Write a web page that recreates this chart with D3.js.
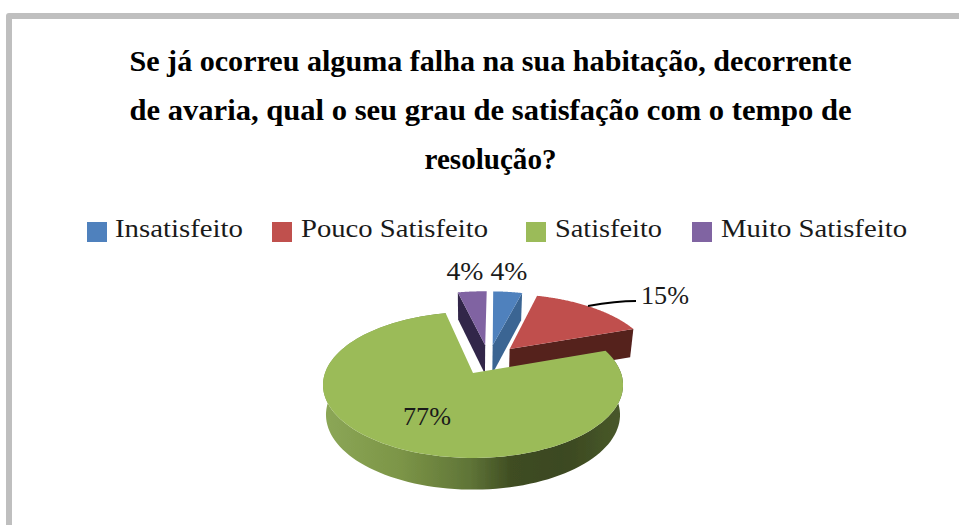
<!DOCTYPE html>
<html><head><meta charset="utf-8">
<script src="https://cdn.jsdelivr.net/npm/d3@7"></script>
<style>html,body{margin:0;padding:0;background:#fff}svg{display:block}
text{font-family:"Liberation Serif",serif;fill:#1a1a1a}</style></head>
<body><svg id="c" width="959" height="525"></svg>
<script>
const categories=["Insatisfeito","Pouco Satisfeito","Satisfeito","Muito Satisfeito"];
const values=[3.85,15.38,76.92,3.85];
const labels=["4%","15%","77%","4%"];
const topColors=["#4f81bd","#c0504d","#9bbb59","#8064a2"];
const wallColors=["#3a6593","#54201f","#6a7f3c","#33274a"];
const titleLines=["Se já ocorreu alguma falha na sua habitação, decorrente","de avaria, qual o seu grau de satisfação com o tempo de","resolução?"];
const legendX=[87,272,526,692];
const legendTextX=[115,301,555,721];
const labelPos=[[509,271],[665,295],[427,416],[465,271]];

const svg=d3.select("#c");
const defs=svg.append("defs");
defs.append("filter").attr("id","soft").attr("x","-5%").attr("y","-5%").attr("width","110%").attr("height","110%")
  .append("feGaussianBlur").attr("stdDeviation",0.45);
const grad=defs.append("linearGradient").attr("id","wall").attr("gradientUnits","userSpaceOnUse")
  .attr("x1",327).attr("x2",620).attr("y1",0).attr("y2",0);
[[0,"#8ba656"],[.25,"#7c9547"],[.49,"#5f7437"],[.63,"#3f4d22"],[.8,"#3b4820"],[1,"#48582a"]]
  .forEach(s=>grad.append("stop").attr("offset",s[0]).attr("stop-color",s[1]));

// frame
svg.append("path").attr("d","M9,530V16H970").attr("fill","none").attr("stroke","#bfbfbf").attr("stroke-width",6).attr("stroke-linejoin","round");

// title
svg.append("g").selectAll("text").data(titleLines).join("text")
  .attr("x",490.5).attr("y",(d,i)=>71+i*49).attr("text-anchor","middle")
  .attr("font-size",29).attr("font-weight","bold").style("fill","#000")
  .attr("textLength",(d,i)=>[722,722,132][i]).attr("lengthAdjust","spacingAndGlyphs").text(d=>d);

// legend
const lg=svg.append("g").selectAll("g").data(categories).join("g");
lg.append("rect").attr("x",(d,i)=>legendX[i]).attr("y",222).attr("width",20).attr("height",20).attr("fill",(d,i)=>topColors[i]);
lg.append("text").attr("x",(d,i)=>legendTextX[i]).attr("y",237).attr("font-size",26)
  .attr("textLength",(d,i)=>[128,187,107,186][i]).attr("lengthAdjust","spacingAndGlyphs").text(d=>d);

// pie in perspective
const cx=473,y0=373,R=148,H=71,K=.164,D=29.5,E=.224,rot=1.5*Math.PI/180;
const pie=d3.pie().sort(null).value(d=>d).startAngle(rot).endAngle(rot+2*Math.PI)(values);
const green=pie[2];
const mid=d=>(d.startAngle+d.endAngle)/2;
const gm=mid(green);
const proj=(u,v,z)=>{const w=1+K*v,s=1-.02*z;return [cx+s*R*u/w,y0-H*v/w+z*D/Math.pow(w,.4)];};
function offset(d){ // explosion relative to the green slice's apex
  const m=mid(d);return [E*(Math.sin(m)-Math.sin(gm)),E*(Math.cos(m)-Math.cos(gm))];
}
const rim=(d,a,z)=>{const o=offset(d);return proj(o[0]+Math.sin(a),o[1]+Math.cos(a),z);};
const apex=(d,z)=>{const o=offset(d);return proj(o[0],o[1],z);};
const poly=d3.line().curve(d3.curveLinear);
const angles=d=>d3.range(0,121).map(i=>d.startAngle+(d.endAngle-d.startAngle)*i/120);
const g=svg.append("g").attr("filter","url(#soft)");

function cutWall(d,a,color){
  g.append("path").attr("d",poly([apex(d,0),rim(d,a,0),rim(d,a,1),apex(d,1)])+"Z").attr("fill",color);
}
function topFace(d,color){
  g.append("path").attr("d",poly([apex(d,0),...angles(d).map(a=>rim(d,a,0))])+"Z").attr("fill",color);
}
// back slices first
cutWall(pie[3],pie[3].startAngle,wallColors[3]); topFace(pie[3],topColors[3]);
cutWall(pie[0],pie[0].endAngle,wallColors[0]); topFace(pie[0],topColors[0]);
cutWall(pie[1],pie[1].endAngle,wallColors[1]); topFace(pie[1],topColors[1]);
// green slice: outer wall then top
const ga=angles(green);
g.append("path").attr("d",poly([...ga.map(a=>rim(green,a,0)),...ga.slice().reverse().map(a=>rim(green,a,1))])+"Z").attr("fill","url(#wall)");
topFace(green,topColors[2]);

// leader line
svg.append("path").attr("d","M588,306C605,303 618,301 636,301").attr("fill","none").attr("stroke","#000").attr("stroke-width",2);

// labels
svg.append("g").selectAll("text").data(labels).join("text")
  .attr("x",(d,i)=>labelPos[i][0]).attr("y",(d,i)=>labelPos[i][1]+9).attr("text-anchor","middle")
  .attr("font-size",26).attr("textLength",d=>d.length===2?37:48).attr("lengthAdjust","spacingAndGlyphs").text(d=>d);
</script></body></html>
